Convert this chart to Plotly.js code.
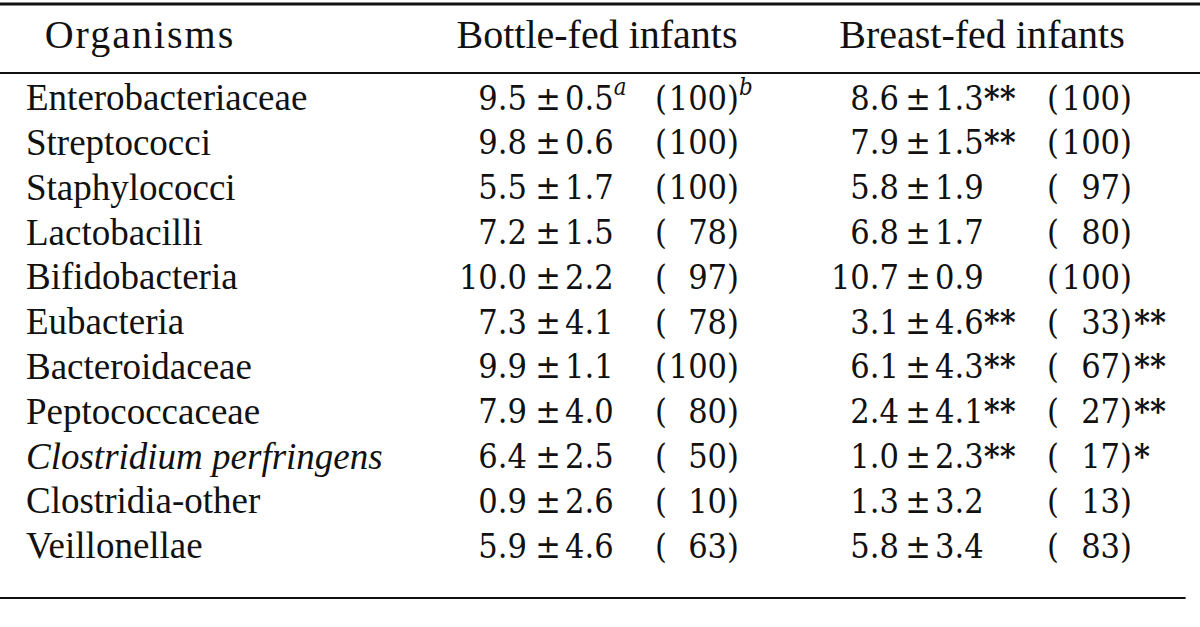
<!DOCTYPE html>
<html>
<head>
<meta charset="utf-8">
<script src="https://cdn.plot.ly/plotly-3.0.1.min.js"></script>
<style>
  html, body { margin: 0; padding: 0; background: #fff; }
  #chart { width: 1200px; height: 627px; }
</style>
</head>
<body>
<div id="chart"></div>
<script>
// column headings
var headers = ['<span style="letter-spacing:2px">Organisms</span>', 'Bottle-fed infants', 'Breast-fed infants'];

// rows
var organisms = [
  'Enterobacteriaceae', 'Streptococci', 'Staphylococci', 'Lactobacilli',
  'Bifidobacteria', 'Eubacteria', 'Bacteroidaceae', 'Peptococcaceae',
  '<i>Clostridium perfringens</i>', 'Clostridia-other', 'Veillonellae'
];

// bottle-fed: mean ± sd (log count) and (% colonised)
var bottleMean = [9.5, 9.8, 5.5, 7.2, 10.0, 7.3, 9.9, 7.9, 6.4, 0.9, 5.9];
var bottleSD   = [0.5, 0.6, 1.7, 1.5, 2.2, 4.1, 1.1, 4.0, 2.5, 2.6, 4.6];
var bottlePct  = [100, 100, 100, 78, 97, 78, 100, 80, 50, 10, 63];
var bottleSDNote  = ['a', '', '', '', '', '', '', '', '', '', ''];
var bottlePctNote = ['b', '', '', '', '', '', '', '', '', '', ''];

// breast-fed
var breastMean = [8.6, 7.9, 5.8, 6.8, 10.7, 3.1, 6.1, 2.4, 1.0, 1.3, 5.8];
var breastSD   = [1.3, 1.5, 1.9, 1.7, 0.9, 4.6, 4.3, 4.1, 2.3, 3.2, 3.4];
var breastPct  = [100, 100, 97, 80, 100, 33, 67, 27, 17, 13, 83];
var breastSDSig  = ['**', '**', '', '', '', '**', '**', '**', '**', '', ''];
var breastPctSig = ['', '', '', '', '', '**', '**', '**', '*', '', ''];

var rowTop = 101, rowStep = 44.8, headY = 38;
var rowY = organisms.map(function (_, i) { return rowTop + i * rowStep; });

var headFont = { family: 'Liberation Serif, Times New Roman, serif', size: 40, color: '#111' };
var textFont = { family: 'Liberation Serif, Times New Roman, serif', size: 37, color: '#111' };
var numFont  = { family: 'DejaVu Serif Condensed, DejaVu Serif, serif', size: 34, color: '#111' };
var pmFont   = { family: 'DejaVu Serif Condensed, DejaVu Serif, serif', size: 34, color: '#111' };

function col(xpos, text, pos, font) {
  return {
    type: 'scatter', mode: 'text',
    x: rowY.map(function () { return xpos; }),
    y: rowY,
    text: text,
    textposition: pos,
    textfont: font,
    hoverinfo: 'skip',
    showlegend: false,
    cliponaxis: false
  };
}

function fmt(v) { return v.toFixed(1); }
function pct(v) { return (v < 100 ? '\u2007' : '') + v + ')'; }
function sup(s) { return s ? '<sup><i>' + s + '</i></sup>' : ' '; }
function stars(s) { return s ? '<b>' + s + '</b>' : ''; }

var traces = [
  // header row
  {
    type: 'scatter', mode: 'text',
    x: [140, 597, 982], y: [headY, headY, headY],
    text: headers, textposition: 'middle center', textfont: headFont,
    hoverinfo: 'skip', showlegend: false, cliponaxis: false
  },
  col(26, organisms, 'middle right', textFont),

  // bottle-fed
  col(527, bottleMean.map(fmt), 'middle left', numFont),
  col(548, bottleMean.map(function () { return '\u00b1'; }), 'middle center', pmFont),
  col(565, bottleSD.map(function (v, i) { return fmt(v) + sup(bottleSDNote[i]); }), 'middle right', numFont),
  col(655, bottleMean.map(function () { return '('; }), 'middle right', numFont),
  col(739, bottlePct.map(pct), 'middle left', numFont),
  col(739, bottlePctNote.map(sup), 'middle right', numFont),

  // breast-fed
  col(899, breastMean.map(fmt), 'middle left', numFont),
  col(918, breastMean.map(function () { return '\u00b1'; }), 'middle center', pmFont),
  col(935, breastSD.map(function (v, i) { return fmt(v) + stars(breastSDSig[i]); }), 'middle right', numFont),
  col(1047, breastMean.map(function () { return '('; }), 'middle right', numFont),
  col(1132, breastPct.map(pct), 'middle left', numFont),
  col(1134, breastPctSig.map(function (s) { return s ? stars(s) : ' '; }), 'middle right', numFont)
];

var layout = {
  width: 1200,
  height: 627,
  paper_bgcolor: '#ffffff',
  plot_bgcolor: '#ffffff',
  margin: { l: 0, r: 0, t: 0, b: 0 },
  xaxis: { range: [0, 1200], visible: false, fixedrange: true },
  yaxis: { range: [627, 0], visible: false, fixedrange: true },
  showlegend: false,
  shapes: [
    { type: 'line', xref: 'paper', yref: 'y', x0: 0, x1: 1, y0: 4, y1: 4, line: { color: '#111', width: 3 } },
    { type: 'line', xref: 'paper', yref: 'y', x0: 0, x1: 1, y0: 73, y1: 73, line: { color: '#111', width: 2 } },
    { type: 'line', xref: 'paper', yref: 'y', x0: 0, x1: 0.988, y0: 598, y1: 598, line: { color: '#111', width: 2 } }
  ]
};

Plotly.newPlot('chart', traces, layout, { displayModeBar: false, staticPlot: true });
</script>
</body>
</html>
